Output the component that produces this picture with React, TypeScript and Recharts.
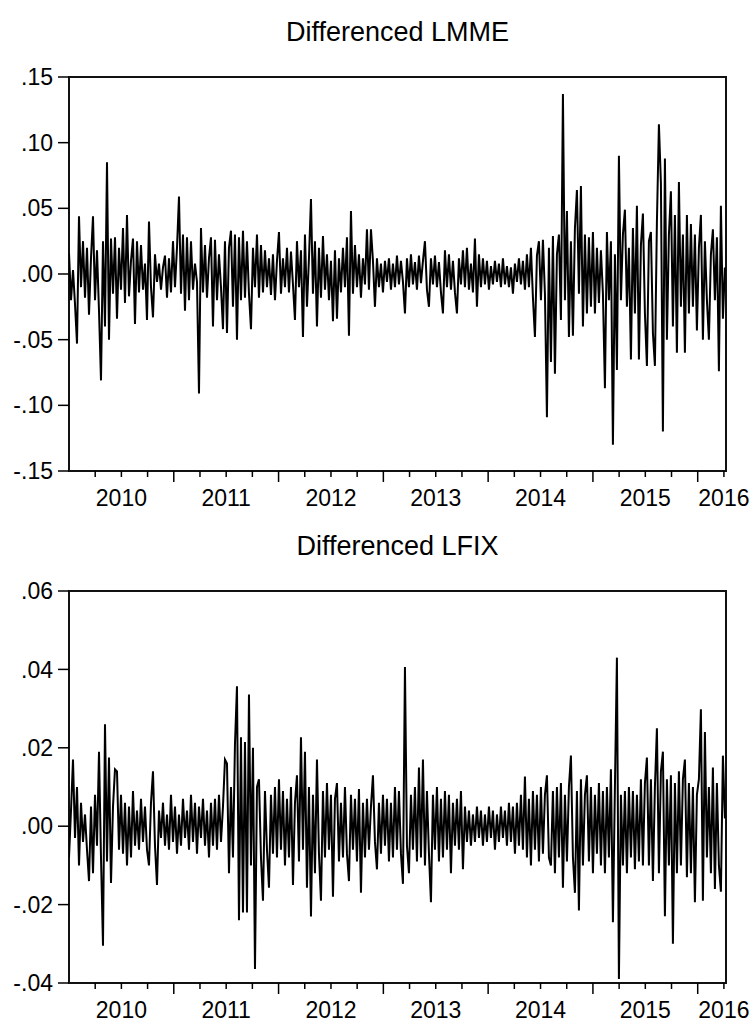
import { LineChart, Line, XAxis, YAxis, ReferenceArea } from 'recharts';

// weekly-ish samples, in units of 0.001 (log differences)
const lmme = [
  16, -20, 3, -23, -53, 44, -10, 25, -18, 20,
  -31, 12, 44, -20, 18, -28, -81, 25, -40, 85,
  -50, 27, -15, 28, -34, 20, -12, 35, -22, 45,
  -17, 10, 27, -38, 25, -14, 22, -12, 8, -35,
  40, -10, -33, 15, -6, 8, -12, 5, 14, -18,
  12, -14, 25, -10, 20, 59, -15, 30, -28, 28,
  -20, 25, -12, 8, -6, -91, 35, -14, 22, -18,
  12, 28, -40, 26, -20, 15, -10, -42, 25, -45,
  20, 33, -25, 30, -50, 28, -20, 33, -18, 25,
  -15, -42, 20, -10, 30, -18, 22, -14, 18, -10,
  12, -16, 15, -20, 10, 32, -15, 12, -10, 20,
  -14, 17, -8, -35, 25, -10, 18, -48, 30, -25,
  12, 57, -15, 25, -40, 20, -18, 29, -12, 15,
  -20, 10, -36, 18, -34, 12, -14, 20, -10, 28,
  -47, 48, -15, 22, -10, 15, -18, 12, -8, 34,
  -12, 34, 10, -25, 12, -10, 8, -14, 10, -6,
  12, -12, 8, -10, 14, -8, 10, -6, -30, 12,
  -10, 15, -8, 9, -12, 14, -7, 10, 25, -12,
  -25, 12, -8, 14, -10, 9, -14, -30, 18, -10,
  15, -12, 10, -14, -30, 12, -8, 18, -10, 20,
  -12, 8, -14, 27, -25, 15, -10, 12, -8, 10,
  -12, 6, -8, 10, -6, 8, -10, 12, -8, 6,
  -10, 5, -15, 8, -6, 12, -8, 10, -12, 15,
  -10, 20, -18, -48, 14, 25, -20, 26, -15, -109,
  20, -67, 29, -76, 15, 30, -35, 137, -20, 48,
  -48, 25, -47, 35, 64, -15, 67, -40, 30, -30,
  28, -25, 32, -30, 20, -22, 18, -15, -87, 32,
  -20, 25, -130, 15, -73, 90, -20, 30, 49, -25,
  20, -65, 35, -30, 52, -65, 22, 46, -30, -70,
  25, 32, -45, -70, 40, 114, 69, -120, 88, -50,
  30, 63, -40, 45, -60, 70, -25, 30, -60, 45,
  -30, 38, -25, 30, -43, 20, 45, -50, 25, -20,
  -50, 15, 34, -20, 28, -74, 52, -34, 5,
];

const lfix = [
  -8, 4, 17, -3, 10, -10, 6, -4, 3, -6,
  -14, 5, -12, 8, -5, 19, -8, -30.5, 26, -9,
  17.5, -14.5, 5, 14.5, 14, -6, 8, -7, 6, -10,
  5, -8, 9, -5, 4, -6, 7, -4, 5, -6,
  -10, 6, 14, -5, -15, 4, -3, 6, -5, 3,
  -6, 8, -4, 5, -7, 3, -5, 7, -3, 4,
  -6, 8, -4, 6, -7, 5, -3, 7, -5, 4,
  -8, 6, -5, 7, -6, 8, -4, 5, 17, 16,
  -12, 10, -8, 21, 35.7, -24, 22.7, -22, 21.5, -22,
  33.6, -10, 20, -36.4, 10, 12, -8, -19, 9, -6,
  -15.7, 8, -7, 10, -8, 12, -6, 9, -10, 7,
  -8, 10, -15, 6, 13, -9, 22.7, -6, 19, -15.7,
  10, -23, 8, -12, 17, -7, -19, 9, -8, 11,
  -6, 8, -18, 7, 11, -9, 6, -8, 10, -7,
  -14, 8, -6, 7, -9, 9.5, -17, 6, -8, 7,
  -6, 5, 13, -4, -11, 6, -7, 8, -5, 7,
  -9, 6, -8, 10, -6, 9, -7, -14.7, 40.6, -5,
  -12, 8, -6, 10, -9, 15, -8, 17, -10, 9,
  -7, -19.4, 8, -6, 10, -9, 7, -8, 9, -6,
  8, -12, 6, -5, 7, -6, 9, -11, 5, -4,
  4, -5, 3, -4, 5, -3, 4, -5, 3, -4,
  5, -3, 4, -6, 3, -4, 5, -3, 4, -5,
  6, -4, 5, -7, 6, -5, 8, -6, 12.7, -8,
  7, -10, 9, -6, 8, -9, 10, -7, 8, 13,
  -8, -10, 9, -12, 10, -8, 11, -15.7, 8, -9,
  10, 18, -8, -17, 9, -21.5, 12, -10, 8, 13,
  -9, 10, -12, 8, -7, 11, -10, 9, -12, 10,
  -8, 14.5, -24.5, 10, 43, -39, 8, -10, 9, -12,
  10, -8, 9, -11, 8, -9, 12, -10, 11, 17.5,
  -10, 12, -14, 10, 25, -12, 14, 19, -23, 12,
  -10, 13, -30, 11, -12, 14, -10, 12, 17, -13,
  11, -12, 10, -19.4, 8, 12, 29.8, -19, 24, -8,
  10, -12, 15, -16, 11, -10, -16.7, 18, 2,
];

const startYear = 2010;
const obsPerYear = 52.4;
const xEnd = 2016.27;

const quarterTicks = [
  2010.25, 2010.5, 2010.75, 2011, 2011.25, 2011.5, 2011.75, 2012,
  2012.25, 2012.5, 2012.75, 2013, 2013.25, 2013.5, 2013.75, 2014,
  2014.25, 2014.5, 2014.75, 2015, 2015.25, 2015.5, 2015.75, 2016, 2016.25,
];
const yearLabels = ['2010', '2011', '2012', '2013', '2014', '2015', '2016'];
const yearLabelAt = [2010.5, 2011.5, 2012.5, 2013.5, 2014.5, 2015.5, 2016.25];

const lmmeTicks = [-0.15, -0.1, -0.05, 0, 0.05, 0.1, 0.15];
const lfixTicks = [-0.04, -0.02, 0, 0.02, 0.04, 0.06];

const font = '"Liberation Sans", Arial, sans-serif';

const toRows = (vals: number[]) =>
  vals.map((v, i) => ({ t: startYear + i / obsPerYear, v: v / 1000 }));

const fmtY = (v: number) => v.toFixed(2).replace('0.', '.');

function QuarterTick({ x, y, payload }: any) {
  const v = payload.value as number;
  const major = Math.abs(v - Math.round(v)) < 1e-6;
  const idx = yearLabelAt.findIndex((p) => Math.abs(p - v) < 1e-6);
  return (
    <g>
      <line x1={x} x2={x} y1={y} y2={y + (major ? 11 : 6)} stroke="#000" strokeWidth={1.5} />
      {idx >= 0 && (
        <text x={x} y={y + 35} textAnchor="middle" fontSize={23} fontFamily={font} fill="#000">
          {yearLabels[idx]}
        </text>
      )}
    </g>
  );
}

function Panel({ rows, ticks, height, xAxisHeight }: any) {
  const lo = ticks[0];
  const hi = ticks[ticks.length - 1];
  return (
    <LineChart
      width={753}
      height={height}
      data={rows}
      margin={{ top: 77, right: 27, bottom: 0, left: 0 }}
    >
      <XAxis
        type="number"
        dataKey="t"
        domain={[startYear, xEnd]}
        ticks={quarterTicks}
        interval={0}
        axisLine={false}
        tickLine={false}
        tickSize={0}
        tickMargin={0}
        height={xAxisHeight}
        tick={<QuarterTick />}
        allowDataOverflow
      />
      <YAxis
        type="number"
        domain={[lo, hi]}
        ticks={ticks}
        interval={0}
        width={69}
        axisLine={false}
        tickSize={11}
        tickMargin={5}
        tickLine={{ stroke: '#000', strokeWidth: 1.5 }}
        tickFormatter={fmtY}
        tick={{ fill: '#000', fontSize: 23, fontFamily: font }}
        allowDataOverflow
      />
      <Line
        type="linear"
        dataKey="v"
        stroke="#000"
        strokeWidth={2}
        dot={false}
        isAnimationActive={false}
      />
      <ReferenceArea
        x1={startYear}
        x2={xEnd}
        y1={lo}
        y2={hi}
        fill="none"
        stroke="#111"
        strokeWidth={2}
      />
    </LineChart>
  );
}

const titleStyle = (top: number): React.CSSProperties => ({
  position: 'absolute',
  left: 69,
  width: 657,
  top,
  height: 32,
  lineHeight: '32px',
  textAlign: 'center',
  fontFamily: font,
  fontSize: 27,
  color: '#000',
});

export default function App() {
  return (
    <div
      style={{
        position: 'absolute',
        left: 0,
        top: 0,
        width: 753,
        height: 1024,
        background: '#fff',
        overflow: 'hidden',
      }}
    >
      <div style={titleStyle(16)}>Differenced LMME</div>
      <div style={{ position: 'absolute', left: 0, top: 0 }}>
        <Panel rows={toRows(lmme)} ticks={lmmeTicks} height={520} xAxisHeight={49} />
      </div>
      <div style={titleStyle(530)}>Differenced LFIX</div>
      <div style={{ position: 'absolute', left: 0, top: 514 }}>
        <Panel rows={toRows(lfix)} ticks={lfixTicks} height={510} xAxisHeight={41} />
      </div>
    </div>
  );
}
